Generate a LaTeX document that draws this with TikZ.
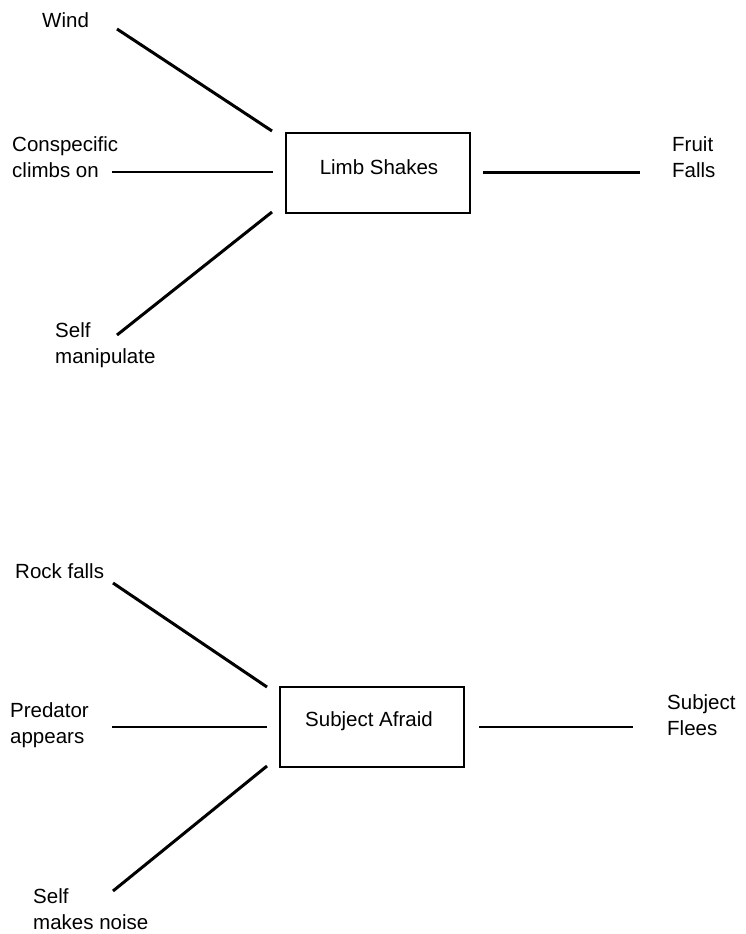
\documentclass[tikz,border=0pt]{standalone}
\usepackage{fontspec}
\setmainfont{Liberation Sans}
\begin{document}
\begin{tikzpicture}[x=1pt,y=-1pt,
  lbl/.style={anchor=base west,inner sep=0pt,align=left,font=\fontsize{20.5}{26}\selectfont},
  boxtxt/.style={anchor=base,inner sep=0pt,font=\fontsize{20.5}{26}\selectfont},
  framebox/.style={draw,line width=2pt,minimum width=184pt,minimum height=80pt,inner sep=0pt},
  thickline/.style={line width=3pt},
  thinline/.style={line width=2pt}]
\useasboundingbox (0,0) rectangle (746,934);
% ---------- top diagram ----------
\node[framebox] (limb) at (378,172.5) {};
\node[boxtxt] (limbtxt) at (379,174) {Limb Shakes};
\node[lbl] (wind) at (42,28) {Wind};
\node[lbl] (consp) at (12,177) {Conspecific\\climbs on};
\node[lbl] (selfA) at (55,363) {Self\\manipulate};
\node[lbl] (fruit) at (672,177) {Fruit\\Falls};
\coordinate (w1) at (117,29);
\coordinate (w2) at (272,131);
\coordinate (c1) at (112,172);
\coordinate (c2) at (273,172);
\coordinate (s1) at (117,335);
\coordinate (s2) at (272,212);
\coordinate (f1) at (483,172);
\coordinate (f2) at (640,172);
\draw[thickline] (w1) -- (w2);
\draw[thinline] (c1) -- (c2);
\draw[thickline] (s1) -- (s2);
\draw[line width=3pt] (f1) -- (f2);
% ---------- bottom diagram ----------
\node[framebox] (afraid) at (372,726.5) {};
\node[boxtxt] (afraidtxt) at (369,726) {Subject Afraid};
\node[lbl] (rock) at (15,578) {Rock falls};
\node[lbl] (pred) at (10,743) {Predator\\appears};
\node[lbl] (selfB) at (33,929) {Self\\makes noise};
\node[lbl] (flees) at (667,735) {Subject\\Flees};
\coordinate (r1) at (113,583);
\coordinate (r2) at (267,687);
\coordinate (p1) at (112,727);
\coordinate (p2) at (267,727);
\coordinate (n1) at (113,891);
\coordinate (n2) at (267,766);
\coordinate (e1) at (479,727);
\coordinate (e2) at (633,727);
\draw[thickline] (r1) -- (r2);
\draw[thinline] (p1) -- (p2);
\draw[thickline] (n1) -- (n2);
\draw[thinline] (e1) -- (e2);
\end{tikzpicture}
\end{document}
